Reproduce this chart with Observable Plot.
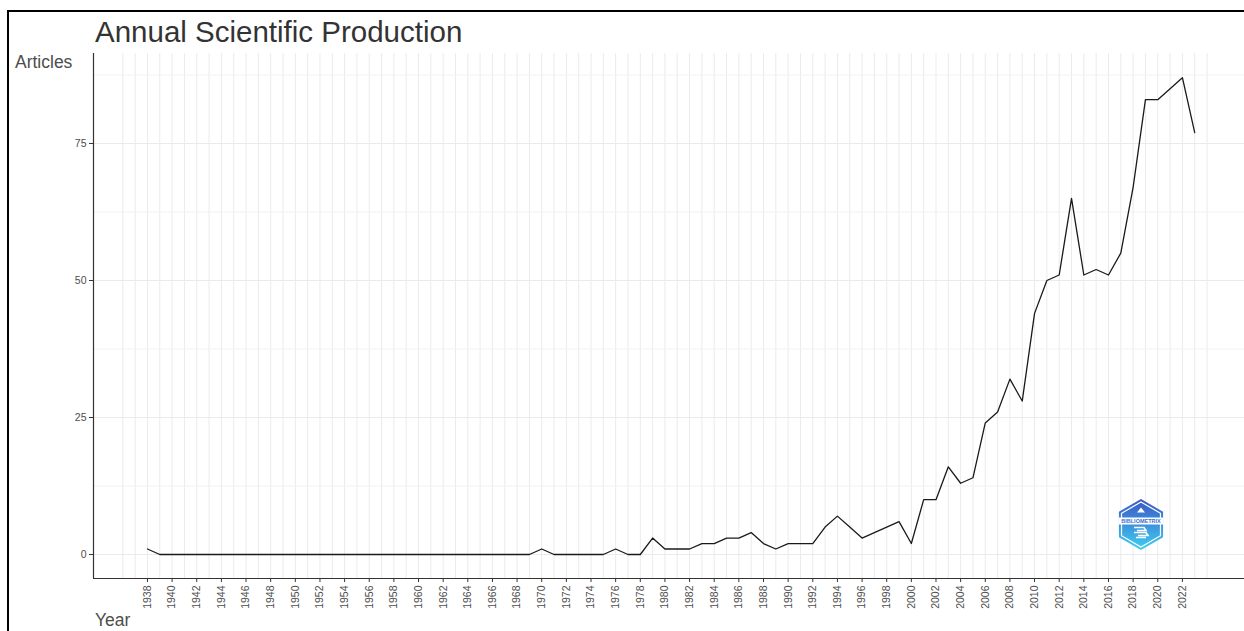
<!DOCTYPE html>
<html>
<head>
<meta charset="utf-8">
<script src="https://cdn.jsdelivr.net/npm/d3@7"></script>
<script src="https://cdn.jsdelivr.net/npm/@observablehq/plot@0.6"></script>
<style>
  html, body { margin: 0; padding: 0; background: #fff; }
  #wrap { position: relative; width: 1244px; height: 631px; overflow: hidden; font-family: "Liberation Sans", Arial, sans-serif; }
  #border { position: absolute; left: 7px; top: 10px; width: 1300px; height: 700px; border-left: 2px solid #000; border-top: 2px solid #000; pointer-events: none; }
</style>
</head>
<body>
<div id="wrap"><div id="border"></div></div>
<script>
const years = [1938,1939,1940,1941,1942,1943,1944,1945,1946,1947,1948,1949,1950,1951,1952,1953,1954,1955,1956,1957,1958,1959,
  1960,1961,1962,1963,1964,1965,1966,1967,1968,1969,1970,1971,1972,1973,1974,1975,1976,1977,1978,1979,
  1980,1981,1982,1983,1984,1985,1986,1987,1988,1989,1990,1991,1992,1993,1994,1995,1996,1997,1998,1999,
  2000,2001,2002,2003,2004,2005,2006,2007,2008,2009,2010,2011,2012,2013,2014,2015,2016,2017,2018,2019,
  2020,2021,2022,2023];
const articles = [1,0,0,0,0,0,0,0,0,0,0,0,0,0,0,0,0,0,0,0,0,0,
  0,0,0,0,0,0,0,0,0,0,1,0,0,0,0,0,1,0,0,3,
  1,1,1,2,2,3,3,4,2,1,2,2,2,5,7,5,3,4,5,6,
  2,10,10,16,13,14,24,26,32,28,44,50,51,65,51,52,51,55,67,83,
  83,85,87,77];
const xTicks = [1938,1940,1942,1944,1946,1948,1950,1952,1954,1956,1958,1960,1962,1964,1966,1968,1970,1972,1974,1976,1978,
  1980,1982,1984,1986,1988,1990,1992,1994,1996,1998,2000,2002,2004,2006,2008,2010,2012,2014,2016,2018,2020,2022];
const yTicks = [0,25,50,75];
const yMinor = [12.5,37.5,62.5,87.5];
const xGrid = d3.range(1936, 2025);
const xDomain = [1933.62, 2027.04];
const yDomain = [-4.38, 91.42];

const data = years.map((y, i) => ({year: y, n: articles[i]}));

const chart = Plot.plot({
  width: 1244,
  height: 631,
  marginLeft: 93,
  marginRight: 0,
  marginTop: 53,
  marginBottom: 53,
  style: {fontFamily: "Liberation Sans, Arial, sans-serif", background: "transparent", overflow: "visible"},
  x: {domain: xDomain, label: null},
  y: {domain: yDomain, label: null},
  marks: [
    Plot.ruleX(xGrid, {stroke: "#ebebeb", strokeWidth: 1}),
    Plot.ruleY(yMinor, {stroke: "#f2f2f2", strokeWidth: 1}),
    Plot.ruleY(yTicks, {stroke: "#ebebeb", strokeWidth: 1.1}),
    Plot.lineY(data, {x: "year", y: "n", stroke: "#1a1a1a", strokeWidth: 1.3}),
    Plot.ruleX([xDomain[0]], {stroke: "#333", strokeWidth: 1.2}),
    Plot.ruleY([yDomain[0]], {stroke: "#333", strokeWidth: 1.2}),
    Plot.axisX({ticks: xTicks, tickFormat: d => String(d), tickRotate: -90, tickSize: 4, tickPadding: 3,
      fontSize: 10.5, color: "#4d4d4d", stroke: "#333", label: null}),
    Plot.axisY({ticks: yTicks, tickFormat: d => String(d), tickSize: 4, tickPadding: 3,
      fontSize: 10.5, color: "#4d4d4d", stroke: "#333", label: null})
  ]
});

document.getElementById("wrap").appendChild(chart);
const svg = d3.select(chart);
svg.selectAll("g[aria-label='x-axis tick label'] text, g[aria-label='y-axis tick label'] text").attr("fill", "#4d4d4d");

const addText = (x, y, size, fill, str) => svg.append("text").attr("x", x).attr("y", y).attr("font-size", size)
  .attr("fill", fill).attr("text-anchor", "start").attr("font-family", "Liberation Sans, Arial, sans-serif").text(str);
addText(95, 41.5, 29.5, "#333", "Annual Scientific Production");
addText(15, 68, 17.5, "#4d4d4d", "Articles");
addText(95, 626, 17.5, "#4d4d4d", "Year");

// logo (decoration)
const defs = svg.append("defs");
const grad = defs.append("linearGradient").attr("id", "lg").attr("x1", 0).attr("y1", 0).attr("x2", 0).attr("y2", 1);
grad.append("stop").attr("offset", "0%").attr("stop-color", "#3b56c4");
grad.append("stop").attr("offset", "100%").attr("stop-color", "#3fd0f2");
const cx = 1141, cy = 524.5, R = 25.5;
const hex = r => d3.range(6).map(k => { const a = Math.PI / 180 * (60 * k - 90); return [cx + r * Math.cos(a), cy + r * Math.sin(a)]; });
const logo = svg.append("g");
logo.append("path").attr("d", "M" + hex(R).join("L") + "Z").attr("fill", "url(#lg)");
logo.append("path").attr("d", "M" + hex(R - 3).join("L") + "Z").attr("fill", "none").attr("stroke", "#fff").attr("stroke-width", 1.2);
logo.append("rect").attr("x", cx - 22).attr("y", cy - 7).attr("width", 44).attr("height", 7).attr("fill", "#fff");
logo.append("text").attr("x", cx).attr("y", cy - 1.5).attr("text-anchor", "middle").attr("font-size", 5.5).attr("font-weight", "bold")
  .attr("fill", "#3b6fd6").attr("font-family", "Liberation Sans, Arial, sans-serif").text("BIBLIOMETRIX");
logo.append("path").attr("d", `M${cx-4},${cy-12} l4,-5 l4,5 Z`).attr("fill", "#fff");
logo.append("path").attr("d", `M${cx-7},${cy+3} h10 l2,3 l-9,0 M${cx-7},${cy+8} h12 l2,3 l-10,0 M${cx-5},${cy+13} h10`).attr("fill", "none").attr("stroke", "#fff").attr("stroke-width", 1.6);
</script>
</body>
</html>
